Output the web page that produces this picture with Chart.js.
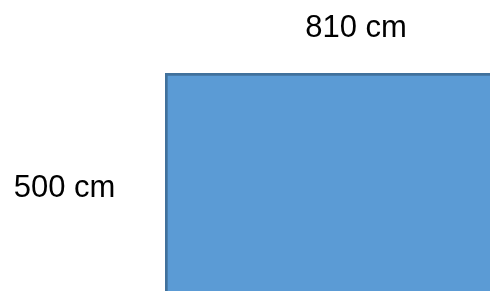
<!DOCTYPE html>
<html>
<head>
<meta charset="utf-8">
<script src="https://cdn.jsdelivr.net/npm/chart.js@4"></script>
<style>
  html, body { margin: 0; padding: 0; background: #fff; }
  #wrap { width: 490px; height: 291px; }
</style>
</head>
<body>
<div id="wrap"><canvas id="c"></canvas></div>
<script>
// room measurements
const labels = ['room'];
const widthValues = [810];
const heightValues = [500];
const widthLabels = ['810 cm'];
const heightLabels = ['500 cm'];

// draws the two measurement labels next to the rectangle
const sizeLabels = {
  id: 'sizeLabels',
  afterDraw(chart) {
    const ctx = chart.ctx;
    ctx.save();
    ctx.fillStyle = '#000';
    ctx.font = "31px 'Liberation Sans', Arial, sans-serif";
    ctx.textAlign = 'center';
    ctx.textBaseline = 'alphabetic';
    ctx.fillText(widthLabels[0], 356, 37);
    ctx.fillText(heightLabels[0], 64.5, 197);
    ctx.restore();
  }
};

new Chart(document.getElementById('c'), {
  type: 'bar',
  data: {
    labels: labels,
    datasets: [{
      data: heightValues,
      backgroundColor: '#5B9BD5',
      borderColor: '#41719C',
      borderWidth: { top: 3, left: 3, right: 0, bottom: 0 },
      borderSkipped: false,
      barPercentage: 1,
      categoryPercentage: 1
    }]
  },
  options: {
    responsive: true,
    maintainAspectRatio: false,
    animation: false,
    layout: { padding: { left: 165, top: 73, right: 0, bottom: 0 } },
    scales: {
      x: { display: false },
      y: { display: false, min: 0, max: heightValues[0] }
    },
    plugins: {
      legend: { display: false },
      tooltip: { enabled: false }
    }
  },
  plugins: [sizeLabels]
});
</script>
</body>
</html>
